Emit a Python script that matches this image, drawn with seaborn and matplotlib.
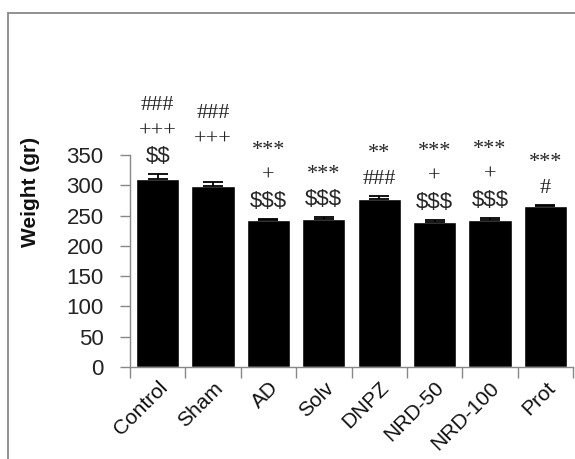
import seaborn as sns
import matplotlib.pyplot as plt
from matplotlib.patches import Rectangle

sns.set_theme(style="white")
plt.rcParams["font.family"] = ["Liberation Sans", "DejaVu Sans"]

groups = ["Control", "Sham", "AD", "Solv", "DNPZ", "NRD-50", "NRD-100", "Prot"]
weight = [310, 298, 242, 244, 278, 240, 243, 265]
sem = [8, 7, 3, 3, 4, 3, 3, 3]
# significance marks, bottom line first
marks = [["$$", "+++", "###"],
         ["", "+++", "###"],
         ["$$$", "+", "***"],
         ["$$$", "***"],
         ["###", "**"],
         ["$$$", "+", "***"],
         ["$$$", "+", "***"],
         ["#", "***"]]

fig = plt.figure(figsize=(5.75, 4.59), dpi=100)
ax = fig.add_axes([130 / 575, 92 / 459, 443 / 575, 212 / 459])

sns.barplot(x=groups, y=weight, color="black", width=0.78, errorbar=None,
            saturation=1, ax=ax)
ax.errorbar(range(len(groups)), weight, yerr=[[0] * len(sem), sem], fmt="none",
            ecolor="black", elinewidth=1.3, capsize=7, capthick=1.3)

ax.set_ylim(0, 350)
ax.set_xlim(-0.5, len(groups) - 0.5)
ax.set_yticks(range(0, 351, 50))
ax.tick_params(axis="y", labelsize=16, colors="#888888", labelcolor="#222222",
               left=True, length=7, width=1, pad=12)
ax.set_xticks(range(len(groups)))
ax.set_xticklabels(groups, rotation=45, ha="right", rotation_mode="anchor",
                   fontsize=15, color="#111111")
ax.tick_params(axis="x", which="major", length=0, pad=8)
ax.set_xticks([i - 0.5 for i in range(len(groups) + 1)], minor=True)
ax.tick_params(axis="x", which="minor", bottom=True, length=8, width=1,
               color="#888888")
for s in ["top", "right"]:
    ax.spines[s].set_visible(False)
for s in ["left", "bottom"]:
    ax.spines[s].set_color("#888888")
    ax.spines[s].set_linewidth(1)
ax.set_xlabel("")
ax.set_ylabel("")

for i, lines in enumerate(marks):
    top = weight[i] + sem[i]
    for j, txt in enumerate(lines):
        if not txt:
            continue
        fam = ["Liberation Sans"] if "$" in txt else ["Liberation Serif"]
        ax.annotate(txt, xy=(i, top), xytext=(0, (12 + 26 * j) * 0.72),
                    textcoords="offset points", ha="center", va="baseline",
                    fontsize=16, family=fam, parse_math=False,
                    annotation_clip=False)

fig.text(30 / 575, 1 - 192 / 459, "Weight (gr)", rotation=90, ha="center",
         va="center", fontsize=15, fontweight="bold", color="#111111")

fig.patches.append(Rectangle((8 / 575, -0.2), 1.2, 1.2 - 13 / 459,
                             transform=fig.transFigure, fill=False,
                             edgecolor="#888888", linewidth=1.3))

fig.savefig("out.png", dpi=100)
